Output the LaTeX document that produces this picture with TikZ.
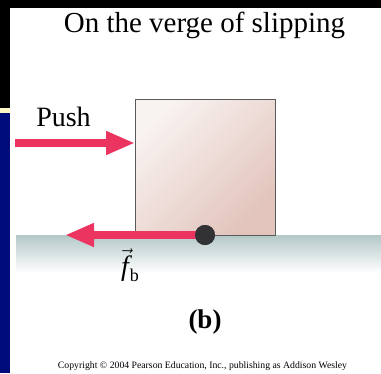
\documentclass[tikz,border=0pt]{standalone}
\usepackage{fontspec}
\setmainfont{Liberation Serif}
\usetikzlibrary{arrows.meta}
\definecolor{pushred}{RGB}{236,52,96}
\definecolor{navyband}{RGB}{0,12,122}
\definecolor{creamband}{RGB}{255,248,196}
\definecolor{boxlight}{RGB}{248,242,240}
\definecolor{boxdark}{RGB}{226,196,188}
\definecolor{boxedge}{RGB}{90,90,90}
\definecolor{groundtop}{RGB}{180,200,200}
\definecolor{dotgray}{RGB}{50,50,52}
\tikzset{
  force/.style={line width=8pt, color=pushred, -{Triangle[length=29pt,width=22pt]}},
  block/.style={draw=boxedge, line width=1.4pt, minimum width=140pt, minimum height=136pt,
     inner sep=0pt, anchor=north west, top color=boxlight, bottom color=boxdark, shading angle=45},
  contact/.style={circle, fill=dotgray, minimum size=20pt, inner sep=0pt},
  lbl/.style={inner sep=0pt, text=black}
}
\newcommand{\vecf}{\ensuremath{\vec{\mbox{\itshape f\kern1pt}}}}
\begin{document}
\begin{tikzpicture}[x=1pt,y=-1pt]
\useasboundingbox (0,0) rectangle (381,373);
\fill[white] (0,0) rectangle (381,373);
% frame bands
\fill[black] (0,0) rectangle (381,8);
\fill[black] (0,0) rectangle (10,108);
\fill[creamband] (0,108) rectangle (10,113);
\fill[navyband] (0,113) rectangle (10,373);
% ground
\shade[top color=groundtop, bottom color=white] (16,235) rectangle (381,273);
% block
\node[block] (box) at (135,99) {};
% push arrow
\coordinate (pstart) at (15,143);
\draw[force] (pstart) -- (pstart -| box.west);
% friction
\node[contact] (dot) at (205,235) {};
\coordinate (fend) at (65,235);
\draw[force] (dot.center) -- (fend);
\node[contact] at (dot) {};
% texts
\node[lbl, anchor=base, font=\fontsize{29}{32}\selectfont] (title) at (204.5,32) {On the verge of slipping};
\node[lbl, anchor=base, font=\fontsize{28}{30}\selectfont] (push) at (63.5,126) {Push};
\node[lbl, anchor=base west, font=\fontsize{28}{30}\selectfont] (fb) at (121,275)
  {\vecf\raisebox{-6pt}{\fontsize{18}{18}\selectfont b}};
\node[lbl, anchor=base, font=\fontsize{27}{30}\selectfont\bfseries] (b) at (205,328) {(b)};
\node[lbl, anchor=base] (copy) at (202.5,368) {\resizebox{289pt}{!}{Copyright \textcopyright\ 2004 Pearson Education, Inc., publishing as Addison Wesley}};
\end{tikzpicture}
\end{document}
